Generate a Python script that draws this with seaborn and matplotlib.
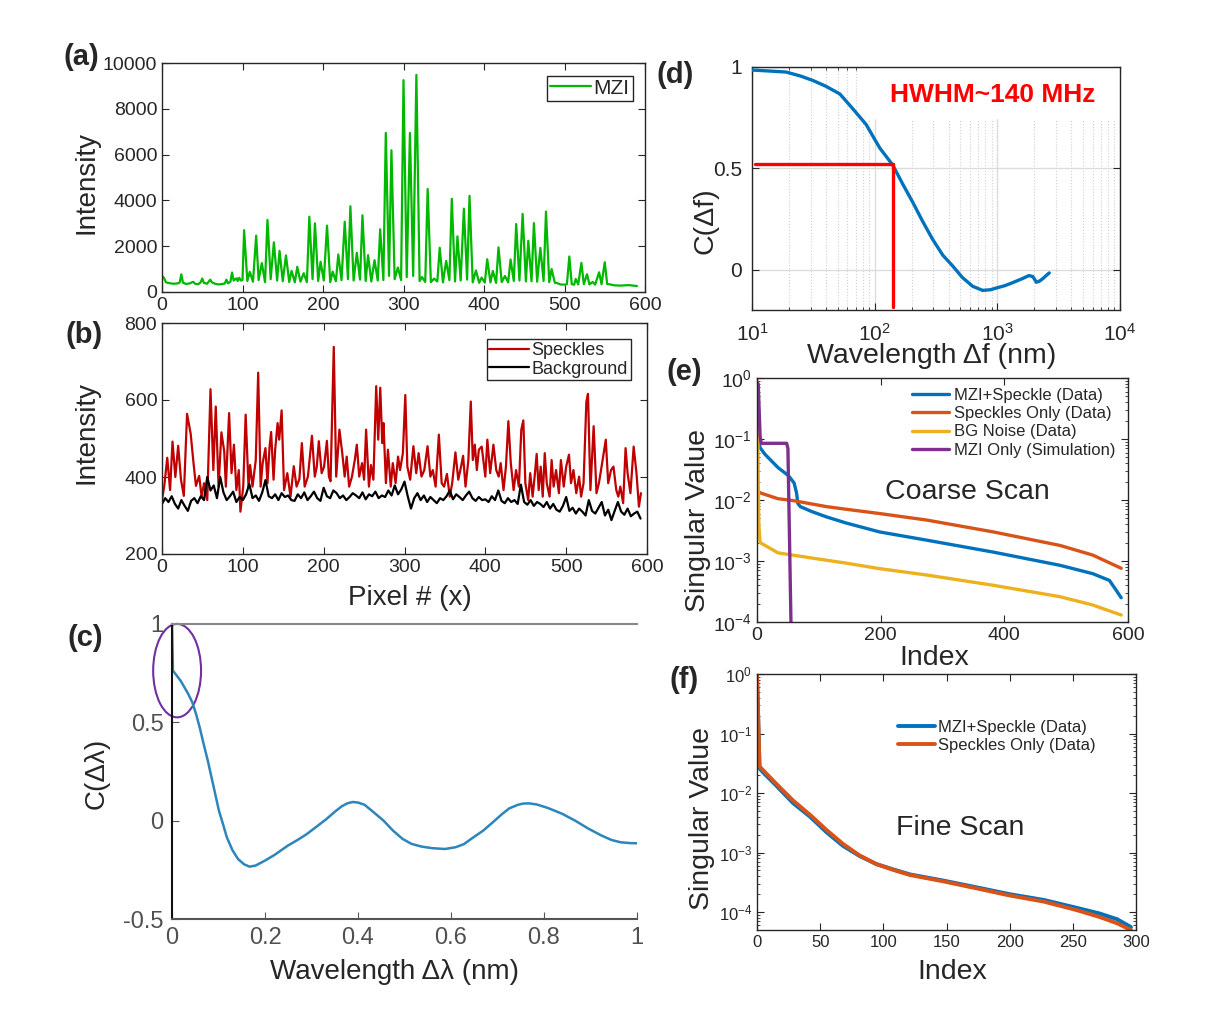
import numpy as np
import pandas as pd
import seaborn as sns
import matplotlib.pyplot as plt
from matplotlib.patches import Ellipse, Rectangle

#%% data
# (a) MZI trace: start region, peaks, valleys between peaks, tail
mzi_start_x = [0, 2, 5, 10, 15, 20, 22, 24, 26, 30, 35, 37, 39, 41, 45, 48, 50, 52, 56, 60,
               62, 66, 70, 75, 78, 80, 82, 85, 87, 89, 91, 93, 94, 96, 98, 100]
mzi_start_y = [700, 640, 420, 380, 360, 380, 420, 770, 410, 350, 380, 420, 440, 360, 340, 420, 590, 400, 360, 540,
               420, 360, 330, 350, 370, 540, 380, 450, 850, 500, 560, 600, 480, 620, 500, 520]
mzi_peak_x = [102, 109, 117, 124, 131, 139, 146, 154, 161, 168,
              176, 183, 190, 197, 205, 212, 219, 227, 234, 242,
              249, 256, 264, 271, 278, 285, 293, 300, 308, 316,
              323, 330, 338, 345, 353, 360, 367, 375, 382, 390,
              397, 404, 411, 418, 426, 433, 440, 448, 455, 462,
              470, 477, 484]
mzi_peak_y = [2700, 880, 2460, 1260, 3150, 2170, 1800, 1600, 920, 1100,
              820, 3290, 3000, 1320, 2900, 890, 1640, 3070, 3745, 1710,
              3350, 1610, 1390, 2740, 6950, 6190, 1070, 9250, 6950, 9480,
              650, 4500, 585, 1930, 1360, 4070, 2430, 3640, 4200, 940,
              630, 1430, 920, 1950, 700, 1420, 2970, 3410, 2240, 3010,
              1930, 3510, 1000]
mzi_valley_x = [106, 113, 120, 128, 135, 143, 150, 158, 165, 172,
                180, 187, 194, 201, 209, 216, 223, 231, 238, 246,
                253, 260, 268, 275, 282, 289, 297, 304, 312, 320,
                327, 334, 342, 349, 357, 364, 371, 379, 386, 394,
                401, 408, 415, 422, 430, 437, 444, 452, 459, 466,
                474, 481, 488]
mzi_valley_y = [480, 450, 520, 430, 560, 500, 470, 440, 420, 450,
                430, 560, 480, 500, 430, 470, 520, 560, 500, 540,
                480, 460, 500, 520, 700, 560, 520, 650, 700, 480,
                440, 430, 460, 420, 520, 460, 500, 540, 420, 400,
                410, 420, 400, 430, 420, 480, 500, 460, 470, 450,
                480, 430, 400]
mzi_tail_x = [490, 495, 500, 503, 506, 509, 512, 514, 517, 521, 524, 528, 531, 535, 538,
              543, 546, 550, 553, 557, 562, 570, 580, 585, 590]
mzi_tail_y = [400, 330, 320, 340, 1550, 340, 320, 570, 330, 1270, 340, 775, 330, 440, 320,
              860, 340, 1300, 350, 330, 290, 280, 300, 280, 260]

# (b) speckles and background
speckle_x = [0, 3, 6.5, 10, 13, 16.5, 20, 23.5, 27, 31,
             35.5, 39, 42, 46, 49, 52, 56, 60, 63.5, 66.5,
             70, 73.5, 77, 79, 83, 86, 89, 92, 95, 97,
             100.5, 103.5, 107, 109, 112, 116, 119, 122, 124.5, 128,
             130.5, 133, 135, 138, 140, 143, 145, 148, 151, 155,
             159, 163, 166.5, 170, 173, 176.5, 180.5, 185.5, 189, 191.5,
             194, 197.5, 200.5, 204, 206.5, 208.5, 212.5, 215.5, 219.5, 223,
             226, 228.5, 231.5, 235, 238.5, 241, 244, 247.5, 250, 252.5,
             256, 258.5, 261.5, 265, 267.5, 270, 272.5, 274, 277, 279.5,
             283, 285.5, 289, 292, 294.5, 298, 301, 303.5, 307, 311,
             314.5, 317.5, 321, 324.5, 328.5, 332, 335, 338.5, 342.5, 346,
             349, 352.5, 356, 359, 363, 366.5, 370, 372.5, 375.5, 379,
             382, 384.5, 387, 389.5, 392, 395.5, 400, 402.5, 406, 410,
             413.5, 416.5, 419, 422.5, 425.5, 428.5, 431.5, 435, 438, 441.5,
             444.5, 447, 449.5, 453, 455.5, 458.5, 461, 463.5, 466, 468.5,
             471, 473.5, 476, 479.5, 482, 484.5, 487.5, 491, 493.5, 497,
             500, 503.5, 506, 509, 512.5, 516, 518.5, 521.5, 525, 527,
             530, 534, 537.5, 540.5, 544.5, 549, 552, 555.5, 558.5, 562,
             564.5, 567, 570.5, 573.5, 576, 579.5, 583.5, 587, 590, 592.5]
speckle_y = [340, 380, 450, 366, 492, 400, 481, 393, 351, 564,
             512, 436, 377, 403, 349, 384, 340, 628, 418, 583,
             375, 516, 466, 375, 566, 410, 484, 366, 418, 310,
             375, 562, 375, 431, 375, 444, 671, 375, 436, 475,
             384, 477, 517, 393, 471, 540, 497, 573, 366, 410,
             349, 428, 375, 395, 488, 375, 401, 507, 401, 427,
             493, 410, 427, 494, 401, 389, 738, 401, 523, 462,
             401, 453, 375, 401, 444, 484, 401, 436, 393, 523,
             375, 431, 393, 636, 497, 632, 488, 540, 384, 471,
             375, 436, 384, 453, 418, 462, 613, 427, 393, 480,
             410, 462, 401, 418, 480, 401, 418, 375, 510, 384,
             375, 408, 349, 384, 464, 393, 427, 455, 375, 444,
             596, 444, 484, 418, 471, 479, 401, 497, 410, 484,
             418, 401, 436, 366, 427, 545, 436, 366, 418, 375,
             523, 547, 384, 340, 410, 349, 401, 460, 366, 427,
             349, 462, 384, 349, 444, 375, 418, 358, 444, 375,
             427, 458, 384, 418, 358, 401, 349, 384, 596, 616,
             366, 532, 358, 384, 436, 497, 384, 418, 427, 366,
             349, 375, 332, 475, 410, 358, 479, 410, 323, 358]
background_y = [330, 345, 335, 350, 330, 318, 340, 325, 312, 338,
                345, 332, 350, 340, 400, 365, 378, 345, 400, 360,
                340, 350, 362, 335, 348, 340, 355, 382, 345, 352,
                338, 360, 392, 350, 345, 355, 340, 358, 348, 352,
                340, 338, 355, 345, 360, 340, 350, 362, 345, 338,
                372, 350, 345, 365, 358, 345, 352, 340, 348, 358,
                352, 345, 360, 342, 355, 350, 362, 345, 352, 348,
                365, 352, 378, 355, 368, 388, 350, 318, 345, 358,
                340, 352, 335, 348, 340, 332, 345, 340, 350, 365,
                342, 355, 348, 340, 352, 362, 345, 338, 348, 340,
                342, 335, 350, 340, 365, 338, 332, 345, 335, 340,
                330, 380, 335, 328, 340, 325, 335, 330, 322, 335,
                318, 330, 315, 310, 325, 348, 312, 320, 305, 318,
                310, 300, 340, 312, 305, 320, 335, 300, 315, 288,
                312, 335, 310, 302, 318, 298, 305, 310, 292]
background_step = 4   # one sample every 4 pixels

# (c) correlation vs wavelength
c_x = [0, 0.002, 0.019, 0.035, 0.044, 0.052, 0.06, 0.068, 0.077, 0.085, 0.093, 0.101, 0.11,
       0.118, 0.13, 0.142, 0.155, 0.167, 0.18, 0.2, 0.22, 0.249, 0.27, 0.29, 0.31, 0.332, 0.35,
       0.365, 0.377, 0.389, 0.4, 0.414, 0.43, 0.455, 0.475, 0.496, 0.515, 0.537, 0.56, 0.587,
       0.61, 0.628, 0.645, 0.669, 0.69, 0.71, 0.725, 0.743, 0.755, 0.768, 0.785, 0.809, 0.84,
       0.867, 0.895, 0.924, 0.945, 0.965, 0.985, 1.0]
c_y = [1.0, 0.763, 0.71, 0.644, 0.6, 0.54, 0.47, 0.39, 0.305, 0.22, 0.135, 0.05, -0.02,
       -0.085, -0.15, -0.195, -0.222, -0.234, -0.228, -0.203, -0.175, -0.127, -0.098, -0.068,
       -0.032, 0.008, 0.045, 0.073, 0.088, 0.095, 0.092, 0.081, 0.05, 0.0, -0.05, -0.093, -0.118,
       -0.132, -0.14, -0.144, -0.135, -0.119, -0.09, -0.051, -0.008, 0.034, 0.062, 0.08, 0.087,
       0.088, 0.082, 0.064, 0.034, 0.0, -0.04, -0.076, -0.098, -0.11, -0.114, -0.115]

# (d) correlation vs frequency
d_x = [10, 14, 19, 25, 31.5, 40, 52, 65, 85, 110, 140, 170, 204, 245, 296, 360, 433, 520, 630,
       757, 880, 1000, 1150, 1320, 1600, 1810, 1950, 2080, 2200, 2350, 2500, 2650]
d_y = [0.985, 0.98, 0.975, 0.955, 0.933, 0.905, 0.867, 0.8, 0.717, 0.6, 0.517, 0.42, 0.333,
       0.24, 0.15, 0.07, 0.017, -0.04, -0.083, -0.103, -0.1, -0.09, -0.08, -0.066, -0.045,
       -0.03, -0.035, -0.063, -0.058, -0.045, -0.03, -0.017]
hwhm_h_x = [10.5, 140]
hwhm_h_y = [0.52, 0.52]
hwhm_v_x = [140, 140]
hwhm_v_y = [0.52, -0.185]

# (e) coarse scan singular values
e_mzi_x = [1, 5, 13, 34, 51, 60, 64, 66, 70, 88, 112, 144, 198, 274, 382, 490, 543, 570, 581, 589]
e_mzi_y = [0.12, 0.072, 0.056, 0.034, 0.025, 0.019, 0.013, 0.0088, 0.0078, 0.0065, 0.0053, 0.0042,
           0.003, 0.0022, 0.0014, 0.00085, 0.00062, 0.00048, 0.00033, 0.00025]
e_spk_x = [1, 6, 34, 58, 112, 142, 198, 274, 382, 490, 543, 589]
e_spk_y = [0.014, 0.013, 0.0105, 0.0098, 0.0078, 0.0071, 0.006, 0.0047, 0.003, 0.0018, 0.00125, 0.00076]
e_bg_x = [0, 1, 2, 3, 5, 13, 34, 112, 142, 198, 274, 382, 490, 543, 589]
e_bg_y = [1.0, 0.3, 0.02, 0.004, 0.002, 0.0018, 0.00136, 0.00103, 0.00093, 0.00075, 0.00059, 0.0004,
          0.00026, 0.00019, 0.00013]
e_sim_x = [0, 2, 5, 7, 48, 50, 55]
e_sim_y = [0.85, 0.8, 0.11, 0.085, 0.085, 0.07, 9e-5]

# (f) fine scan singular values
f_x = [0, 2, 5, 15, 28.5, 42, 55, 68, 81, 94.5, 108, 121, 147, 174, 200, 227, 253, 271, 285, 296]
f_mzi_y = [1.0, 0.026, 0.022, 0.0135, 0.0068, 0.004, 0.0022, 0.0013, 0.00088, 0.00064, 0.00052,
           0.00043, 0.00034, 0.00026, 0.0002, 0.00016, 0.000118, 0.000095, 0.000076, 0.000056]
f_spk_y = [1.0, 0.028, 0.024, 0.0145, 0.0075, 0.0043, 0.0024, 0.0014, 0.0009, 0.00064, 0.00051,
           0.00042, 0.00033, 0.00025, 0.00019, 0.00015, 0.000108, 0.000083, 0.000065, 0.00005]

#%% style
sns.set_style('ticks')
plt.rcParams['font.family'] = ['Liberation Sans', 'DejaVu Sans']
plt.rcParams['mathtext.fontset'] = 'custom'
plt.rcParams['mathtext.rm'] = 'Liberation Sans'
plt.rcParams['mathtext.default'] = 'regular'

W, H = 1226, 1011
fig = plt.figure(figsize=(W / 100, H / 100), dpi=100)


def add_ax(x0, y0, x1, y1):
    return fig.add_axes([x0 / W, 1 - y1 / H, (x1 - x0) / W, (y1 - y0) / H])


def ftext(x, y, s, **kw):
    fig.text(x / W, 1 - y / H, s, ha='center', va='center', **kw)


def matlab_box(ax, size=14, pad=3.5):
    for sp in ax.spines.values():
        sp.set_color('#262626')
        sp.set_linewidth(1.0)
    ax.tick_params(which='both', direction='in', top=True, right=True, colors='#262626',
                   labelsize=size, pad=pad)
    ax.tick_params(which='major', length=5)
    ax.tick_params(which='minor', length=2.5)


#%% (a)
ax = add_ax(162, 63, 645, 292)
mzi = pd.DataFrame({'x': mzi_start_x + mzi_peak_x + mzi_valley_x + mzi_tail_x,
                    'y': mzi_start_y + mzi_peak_y + mzi_valley_y + mzi_tail_y}).sort_values('x')
sns.lineplot(data=mzi, x='x', y='y', ax=ax, color='#00b800', lw=1.6, estimator=None, sort=False, label='MZI')
ax.set_xlim(0, 600)
ax.set_ylim(0, 10000)
ax.set_yticks(range(0, 10001, 2000))
ax.set_xlabel('')
ax.set_ylabel('')
matlab_box(ax)
leg = ax.legend(loc='upper right', fontsize=15, handlelength=2.0, handletextpad=0.1, borderpad=0.15,
                borderaxespad=0.6, fancybox=False, edgecolor='#262626', framealpha=1)
leg.get_frame().set_linewidth(1.0)

#%% (b)
ax = add_ax(162, 323, 647, 554)
bg_x = np.arange(0, background_step * len(background_y), background_step)
sns.lineplot(x=speckle_x, y=speckle_y, ax=ax, color='#c00000', lw=1.6, estimator=None, sort=False, label='Speckles')
sns.lineplot(x=bg_x, y=background_y, ax=ax, color='black', lw=1.6, estimator=None, sort=False, label='Background')
ax.set_xlim(0, 600)
ax.set_ylim(200, 800)
ax.set_yticks(range(200, 801, 200))
matlab_box(ax)
leg = ax.legend(loc='upper right', fontsize=13, handlelength=2.2, handletextpad=0.15, borderpad=0.15,
                labelspacing=0.1, borderaxespad=0.9, fancybox=False, edgecolor='#262626', framealpha=1)
leg.get_frame().set_linewidth(1.0)

#%% (c)
ax = add_ax(172, 624, 637, 919)
sns.lineplot(x=c_x, y=c_y, ax=ax, color='#2c85bb', lw=1.8, estimator=None, sort=False)
ax.set_xlim(0, 1)
ax.set_ylim(-0.5, 1)
ax.set_xticks([0, 0.2, 0.4, 0.6, 0.8, 1])
ax.set_xticklabels(['0', '0.2', '0.4', '0.6', '0.8', '1'])
ax.set_yticks([-0.5, 0, 0.5, 1])
ax.set_yticklabels(['-0.5', '0', '0.5', '1'])
ax.spines['right'].set_visible(False)
ax.spines['left'].set_color('#111111')
ax.spines['top'].set_color('#888888')
ax.spines['bottom'].set_color('#555555')
for sp in ax.spines.values():
    sp.set_linewidth(1.5)
ax.tick_params(direction='in', length=5, colors='#555555', labelsize=17, labelcolor='#505050', pad=6)
ax.add_patch(Ellipse((0.011, 0.763), 0.103, 0.475, fill=False, edgecolor='#7030a0', lw=1.5, clip_on=False))

#%% (d)
ax = add_ax(752, 67, 1120, 310)
ax.set_xscale('log')
ax.grid(True, which='major', color='#dcdcdc', lw=1.0)
ax.grid(True, which='minor', axis='x', color='#cfcfcf', lw=0.8, ls=':')
ax.set_axisbelow(True)
ax.add_patch(Rectangle((0.293, 0.79), 0.707, 0.21, transform=ax.transAxes, color='white', zorder=1))
sns.lineplot(x=d_x, y=d_y, ax=ax, color='#0072bd', lw=2.4, estimator=None, sort=False, zorder=3)
sns.lineplot(x=hwhm_h_x, y=hwhm_h_y, ax=ax, color='#ff0000', lw=2.4, estimator=None, sort=False, zorder=4)
sns.lineplot(x=hwhm_v_x, y=hwhm_v_y, ax=ax, color='#ff0000', lw=2.4, estimator=None, sort=False, zorder=4)
ax.set_xlim(10, 1e4)
ax.set_ylim(-0.2, 1)
ax.set_yticks([0, 0.5, 1])
ax.set_yticklabels(['0', '0.5', '1'])
matlab_box(ax, size=15, pad=7)
ax.tick_params(axis='x', which='both', pad=9)
ax.text(0.655, 0.885, 'HWHM~140 MHz', transform=ax.transAxes, ha='center', va='center',
        color='#ff0000', fontsize=19, fontweight='bold', zorder=5)

#%% (e)
ax = add_ax(757, 378, 1128, 622)
ax.set_yscale('log')
sns.lineplot(x=e_mzi_x, y=e_mzi_y, ax=ax, color='#0072bd', lw=2.4, estimator=None, sort=False, label='MZI+Speckle (Data)')
sns.lineplot(x=e_spk_x, y=e_spk_y, ax=ax, color='#d95319', lw=2.4, estimator=None, sort=False, label='Speckles Only (Data)')
sns.lineplot(x=e_bg_x, y=e_bg_y, ax=ax, color='#edb120', lw=2.4, estimator=None, sort=False, label='BG Noise (Data)')
sns.lineplot(x=e_sim_x, y=e_sim_y, ax=ax, color='#7e2f8e', lw=2.4, estimator=None, sort=False, label='MZI Only (Simulation)')
ax.set_xlim(0, 600)
ax.set_ylim(1e-4, 1)
ax.set_xticks([0, 200, 400, 600])
matlab_box(ax, size=14)
ax.legend(loc='upper left', bbox_to_anchor=(0.418, 0.96), frameon=False, fontsize=12,
          handlelength=2.2, handletextpad=0.3, labelspacing=0.2, borderpad=0, borderaxespad=0)
ax.text(0.566, 0.533, 'Coarse Scan', transform=ax.transAxes, ha='center', va='center', fontsize=20.5)

#%% (f)
ax = add_ax(757, 674, 1136, 930)
ax.set_yscale('log')
sns.lineplot(x=f_x, y=f_mzi_y, ax=ax, color='#0072bd', lw=2.8, estimator=None, sort=False, label='MZI+Speckle (Data)')
sns.lineplot(x=f_x, y=f_spk_y, ax=ax, color='#d95319', lw=2.8, estimator=None, sort=False, label='Speckles Only (Data)')
ax.set_xlim(0, 300)
ax.set_ylim(5e-5, 1)
ax.set_xticks(range(0, 301, 50))
matlab_box(ax, size=12)
ax.legend(loc='upper left', bbox_to_anchor=(0.372, 0.822), frameon=False, fontsize=12,
          handlelength=2.2, handletextpad=0.2, labelspacing=0.2, borderpad=0, borderaxespad=0)
ax.text(0.536, 0.398, 'Fine Scan', transform=ax.transAxes, ha='center', va='center', fontsize=20.5)

#%% axis labels and panel tags
ftext(86, 182, 'Intensity', fontsize=20, rotation=90)
ftext(86, 432, 'Intensity', fontsize=20, rotation=90)
ftext(410, 598, 'Pixel # (x)', fontsize=20)
ftext(97, 773, 'C(Δλ)', fontsize=20, rotation=90)
ftext(395, 972, 'Wavelength Δλ (nm)', fontsize=20)
ftext(705, 221, 'C(Δf)', fontsize=20.5, rotation=90)
ftext(932, 356, 'Wavelength Δf (nm)', fontsize=20.5)
ftext(698, 520, 'Singular Value', fontsize=20.5, rotation=90)
ftext(934, 658, 'Index', fontsize=20.5)
ftext(702, 818, 'Singular Value', fontsize=20.5, rotation=90)
ftext(952, 972, 'Index', fontsize=20.5)

for tag, x, y in [('(a)', 81, 57), ('(b)', 84, 335), ('(c)', 85, 638),
                  ('(d)', 675, 75), ('(e)', 684, 372), ('(f)', 684, 680)]:
    ftext(x, y, tag, fontsize=21, fontweight='bold')

fig.savefig('out.png', dpi=100)
